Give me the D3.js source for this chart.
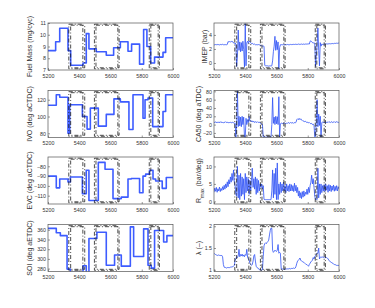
<!DOCTYPE html>
<html>
<head>
<meta charset="utf-8">
<script src="https://cdn.jsdelivr.net/npm/d3@7"></script>
<style>
	body { margin: 0; background: #fff; }
	svg { display: block; font-family: 'Liberation Sans', Arial, sans-serif; }
</style>
</head>
<body>
<div id="chart"></div>
<script>

// left column: actuator set-points, held between the listed cycles
const fuelCycles = [5200, 5249, 5275, 5328, 5345, 5424, 5445, 5462, 5509, 5573, 5620, 5663, 5712, 5735, 5786, 5812, 5833, 5857, 5882, 5936, 5953, 6000];
const fuelMass = [8.65, 9.4, 10.55, 8.65, 7.4, 7.6, 10.1, 8.8, 8.55, 8.25, 8.9, 9.4, 8.6, 9.2, 7.5, 10.45, 9.0, 7.6, 8.1, 8.5, 9.75, 9.75];

const ivoCycles = [5200, 5253, 5275, 5328, 5339, 5420, 5450, 5471, 5522, 5573, 5622, 5663, 5718, 5744, 5808, 5821, 5840, 5870, 5936, 5953, 6000];
const ivo = [113.5, 126, 123, 80, 114, 100, 85, 110, 88.5, 102.5, 121, 117.5, 84.5, 126, 98, 120, 122, 88, 106, 126, 126];

const evcCycles = [5200, 5253, 5275, 5328, 5343, 5420, 5445, 5462, 5522, 5565, 5616, 5669, 5712, 5733, 5786, 5808, 5825, 5850, 5872, 5889, 5931, 5957, 6000];
const evc = [-90, -102, -93, -96, -91, -108, -84, -115, -76, -83, -113, -111.5, -93, -92.5, -107, -90, -88, -84, -93, -95, -102.5, -91.5, -91.5];

const soiCycles = [5200, 5253, 5279, 5322, 5343, 5424, 5445, 5462, 5513, 5573, 5626, 5669, 5727, 5748, 5812, 5840, 5861, 5882, 5940, 5961, 6000];
const soi = [363, 354, 348, 279, 272, 286, 272, 342, 355, 287, 308, 285, 366, 305, 362, 287, 281, 358.5, 335, 348, 348];

// right column: measured per cycle, read every 5 cycles
const sampleCycles = d3.range(5200, 6001, 5);

const imep = [
	2.62, 2.58, 2.63, 2.6, 2.65, 2.6, 2.62, 2.58, 2.64, 2.6, 2.62, 2.66, 2.6, 2.63, 2.58, 2.62, 2.6, 2.64, 3.05, 3.0,
	3.05, 3.0, 3.08, 3.02, 3.05, 2.85, 2.8, 2.85, 2.7, -0.5, 1.0, 4.7, 1.8, 3.0, 1.6, 2.9, 1.7, 3.1, 1.9, -0.6,
	5.6, -0.4, 2.9, 3.1, 2.8, 3.15, 3.0, 2.9, 2.75, 2.8, 2.7, 2.65, 2.7, 2.6, 2.62, 2.58, 2.6, 2.62, 2.6, 2.55,
	2.5, 2.45, 2.4, 2.42, 2.38, -0.35, -0.4, -0.4, -0.42, -0.4, -0.45, -0.42, -0.4, -0.45, -0.4, 0.3, 1.6, 2.4, 3.8, 1.8,
	3.2, 1.9, 3.0, -0.8, 2.2, 2.6, 2.62, 2.58, 2.6, 2.63, 2.6, 2.58, 2.62, 2.6, 2.64, 2.6, 2.62, 2.6, 2.65, 2.62,
	2.65, 2.62, 2.66, 2.64, 2.68, 2.63, 2.66, 2.65, 2.7, 2.64, 2.68, 2.66, 2.7, 2.65, 2.68, 2.7, 2.66, 2.7, 2.68, 2.72,
	2.7, 2.72, 2.7, 3.1, 3.15, 3.05, 2.9, 2.85, 2.9, 2.8, -0.5, 1.2, 2.5, 5.0, 1.8, -0.4, 2.9, 2.4, 2.7, 2.65,
	2.65, 2.7, 2.68, 2.7, 2.72, 2.7, 2.74, 2.72, 2.75, 2.73, 2.76, 2.74, 2.78, 2.75, 2.8, 2.78, 2.8, 2.82, 2.8, 2.85,
	2.8
];

const ca50 = [
	6, 5, 7, 4, 6, 5, 6, 4, 7, 5, 6, 5, 4, 6, 5, 7, 5, 6, 4, 5,
	5, 6, 4, 5, 6, 4, 3, 4, -30, 2, 82, -5, 20, -3, 18, -5, 20, 0, 18, -30,
	-30, 15, 0, 12, 5, 20, 8, 10, 7, 9, 6, 8, 5, 7, 6, 5, 7, 5, 6, 4,
	3, 1, 0, -30, -30, -30, -30, -30, -30, -30, -30, -30, -30, -30, 0, 65, 3, 18, 0, 20,
	2, 19, 0, 67, -30, 2, 3, 4, 2, 3, 4, 3, 2, 4, 3, 5, 4, 3, 5, 4,
	4, 5, 3, 5, 4, 6, 12, 14, 12, 15, 12, 14, 11, 10, 8, 9, 7, 8, 6, 5,
	6, 4, 5, 3, 2, 3, 0, 1, -1, -30, -28, 10, 60, -5, 25, -2, 20, -30, 5, 6,
	5, 6, 4, 7, 5, 6, 5, 7, 6, 5, 7, 6, 5, 6, 7, 5, 6, 7, 6, 5,
	6
];

const rmax = [
	2.6, 3.8, 2.9, 4.0, 2.6, 3.6, 3.0, 4.1, 2.8, 3.7, 3.1, 4.2, 3.3, 4.6, 3.5, 5.0, 3.9, 5.6, 4.2, 6.2,
	5.0, 7.0, 5.5, 8.0, 6.0, 9.0, 5.5, 4.5, 2.0, 1.5, 10.0, 1.0, 7.5, 0.5, 8.0, 1.5, 7.0, 2.0, 6.5, 0.5,
	8.0, 2.5, 7.0, 3.0, 6.5, 2.0, 6.0, 3.0, 6.0, 9.5, 4.0, 6.5, 3.5, 7.0, 2.0, 6.5, 2.5, 6.0, 3.0, 5.0,
	4.0, 5.0, 3.5, 4.5, 0.6, 0.5, 0.5, 0.5, 0.5, 0.5, 0.5, 0.5, 0.5, 0.5, 3.0, 9.0, 1.0, 8.0, 2.0, 9.5,
	0.5, 11.0, 0.5, 5.0, 2.0, 5.5, 2.5, 5.0, 3.0, 5.5, 3.0, 4.5, 2.5, 5.0, 3.0, 4.5, 2.8, 5.0, 3.0, 4.8,
	3.0, 4.5, 2.8, 5.2, 3.0, 4.6, 2.5, 4.0, 1.5, 3.0, 1.0, 2.5, 0.8, 2.8, 1.2, 3.0, 1.5, 2.6, 2.0, 3.5,
	2.0, 4.0, 2.5, 4.5, 5.5, 7.5, 5.0, 6.5, 4.0, 1.5, 0.5, 0.6, 0.5, 9.5, 1.0, 5.0, 2.0, 5.0, 2.5, 4.5,
	3.0, 4.8, 2.8, 5.0, 3.2, 4.5, 2.6, 4.8, 3.0, 4.6, 2.8, 4.4, 3.2, 4.7, 2.9, 4.3, 3.1, 4.5, 3.0, 4.2,
	3.5
];

const lambda = [
	1.38, 1.36, 1.35, 1.34, 1.33, 1.33, 1.34, 1.33, 1.33, 1.32, 1.33, 1.3, 1.12, 1.06, 1.05, 1.05, 1.04, 1.05, 1.05, 1.05,
	1.05, 1.06, 1.06, 1.07, 1.07, 1.08, 1.1, 1.22, 1.25, 1.3, 1.28, 1.32, 1.47, 1.3, 1.35, 1.32, 1.36, 1.31, 1.34, 1.3,
	1.35, 1.33, 1.47, 1.28, 1.25, 1.22, 1.15, 1.12, 1.1, 1.12, 1.2, 1.32, 1.35, 1.2, 1.08, 1.05, 1.04, 1.03, 1.0, 1.0,
	1.0, 0.99, 1.0, 1.3, 1.55, 1.6, 1.62, 1.6, 1.63, 1.65, 1.68, 1.8, 1.9, 1.96, 1.95, 1.45, 1.4, 1.42, 1.45, 1.43,
	1.42, 1.45, 1.58, 1.38, 1.4, 1.38, 1.02, 1.01, 1.02, 1.01, 1.01, 1.02, 1.01, 1.02, 1.02, 1.02, 1.02, 1.03, 1.02, 1.03,
	1.03, 1.03, 1.04, 1.03, 1.04, 1.08, 1.15, 1.2, 1.22, 1.24, 1.27, 1.22, 1.2, 1.19, 1.18, 1.17, 1.15, 1.14, 1.12, 1.12,
	1.1, 1.08, 1.12, 1.15, 1.18, 1.2, 1.22, 1.28, 1.25, 1.3, 1.33, 1.35, 1.38, 1.38, 1.5, 1.25, 1.28, 1.3, 1.28, 1.3,
	1.28, 1.3, 1.28, 1.29, 1.28, 1.27, 1.25, 1.22, 1.2, 1.18, 1.17, 1.16, 1.15, 1.13, 1.12, 1.12, 1.11, 1.1, 1.1, 1.1,
	1.1
];

// tick labels
const xTicks = [5200, 5400, 5600, 5800, 6000];
const fuelTicks = [7, 8, 9, 10, 11];
const ivoTicks = [80, 100, 120];
const evcTicks = [-110, -100, -90, -80];
const soiTicks = [280, 300, 320, 340, 360];
const imepTicks = [0, 2, 4];
const ca50Ticks = [-20, 0, 20, 40, 60, 80];
const rmaxTicks = [0, 5, 10];
const lambdaTicks = [1, 1.5, 2];

// transient windows (two overlapping frames each)
const windowsOuter = [[5333, 5423], [5497, 5647], [5848, 5905]];
const windowsInner = [[5345, 5435], [5507, 5655], [5858, 5913]];

const panels = [
	{ col: 0, row: 0, label: ['Fuel Mass (mg/cyc)'], cycles: fuelCycles, values: fuelMass, step: true, domain: [7, 11], ticks: fuelTicks },
	{ col: 0, row: 1, label: ['IVO (deg aCTDC)'], cycles: ivoCycles, values: ivo, step: true, domain: [75, 131], ticks: ivoTicks },
	{ col: 0, row: 2, label: ['EVC (deg aCTDC)'], cycles: evcCycles, values: evc, step: true, domain: [-118.5, -70.5], ticks: evcTicks },
	{ col: 0, row: 3, label: ['SOI (deg aETDC)'], cycles: soiCycles, values: soi, step: true, domain: [274, 371], ticks: soiTicks },
	{ col: 1, row: 0, label: ['IMEP (bar)'], cycles: sampleCycles, values: imep, step: false, domain: [-1, 5.7], ticks: imepTicks, labelX: 207 },
	{ col: 1, row: 1, label: ['CA50 (deg aTDC)'], cycles: sampleCycles, values: ca50, step: false, domain: [-31, 82], ticks: ca50Ticks },
	{ col: 1, row: 2, label: ['R', 'max', ' (bar/deg)'], cycles: sampleCycles, values: rmax, step: false, domain: [-0.75, 12.7], ticks: rmaxTicks },
	{ col: 1, row: 3, label: ['λ (–)'], cycles: sampleCycles, values: lambda, step: false, domain: [0.96, 2.04], ticks: lambdaTicks }
];

const width = 375, height = 308;
const colLeft = [48, 214], colLabelX = [31.5, 200.5];
const rowTop = [23, 90.5, 157, 224.5];
const plotW = 125, plotH = 47;

const svg = d3.select('#chart')
	.append('svg')
		.attr('width', width)
		.attr('height', height);

panels.forEach(function(p, k) {

	const left = colLeft[p.col], top = rowTop[p.row];
	const bottom = top + plotH;

	const x = d3.scaleLinear().domain([5200, 6000]).range([left, left + plotW]);
	const y = d3.scaleLinear().domain(p.domain).range([bottom, top]);

	const g = svg.append('g');

	g.append('clipPath')
		.attr('id', 'clip' + k)
		.append('rect')
			.attr('x', left).attr('y', top)
			.attr('width', plotW).attr('height', plotH);

	const line = d3.line()
		.x(function(d, i) { return x(p.cycles[i]); })
		.y(function(d) { return y(d); })
		.curve(p.step ? d3.curveStepAfter : d3.curveLinear);

	g.append('path')
		.datum(p.values)
		.attr('clip-path', 'url(#clip' + k + ')')
		.attr('d', line)
		.attr('fill', 'none')
		.attr('stroke', p.step ? '#3d5cff' : '#2f52f5')
		.attr('stroke-width', p.step ? 1.6 : 0.8)
		.attr('stroke-linejoin', 'round');

	// dash-dot frames of the transient windows
	[[windowsOuter, 1.2], [windowsInner, 2.2]].forEach(function(set) {
		g.selectAll(null)
			.data(set[0]).enter()
			.append('rect')
				.attr('x', function(d) { return x(d[0]); })
				.attr('y', top + set[1])
				.attr('width', function(d) { return x(d[1]) - x(d[0]); })
				.attr('height', plotH - 2 * set[1])
				.attr('fill', 'none')
				.attr('stroke', '#111')
				.attr('stroke-width', 0.75)
				.attr('stroke-dasharray', '4,2,1,2');
	});

	g.append('rect')
		.attr('x', left).attr('y', top)
		.attr('width', plotW).attr('height', plotH)
		.attr('fill', 'none')
		.attr('stroke', '#555')
		.attr('stroke-width', 0.7);

	const xAxis = d3.axisBottom(x).tickValues(xTicks).tickSize(-2).tickPadding(4).tickFormat(d3.format('d'));
	const yAxis = d3.axisLeft(y).tickValues(p.ticks).tickSize(-2).tickPadding(2).tickFormat(d3.format(''));

	const ax = g.append('g').attr('transform', `translate(0,${bottom})`).call(xAxis);
	const ay = g.append('g').attr('transform', `translate(${left},0)`).call(yAxis);

	[ax, ay].forEach(function(a) {
		a.select('.domain').remove();
		a.selectAll('line').attr('stroke', '#555').attr('stroke-width', 0.6);
		a.selectAll('text')
			.attr('fill', '#333')
			.style('font-size', '5.3px')
			.style('font-family', "'Liberation Sans', Arial, sans-serif");
	});

	const lx = p.labelX || colLabelX[p.col], ly = top + plotH / 2;
	const label = g.append('text')
		.attr('transform', `translate(${lx},${ly}) rotate(-90)`)
		.attr('text-anchor', 'middle')
		.attr('fill', '#333')
		.style('font-size', '7px');

	label.append('tspan').text(p.label[0]);
	if (p.label.length > 1) {
		label.append('tspan').attr('baseline-shift', 'sub').style('font-size', '5px').text(p.label[1]);
		label.append('tspan').text(p.label[2]);
	}

});

</script>
</body>
</html>
